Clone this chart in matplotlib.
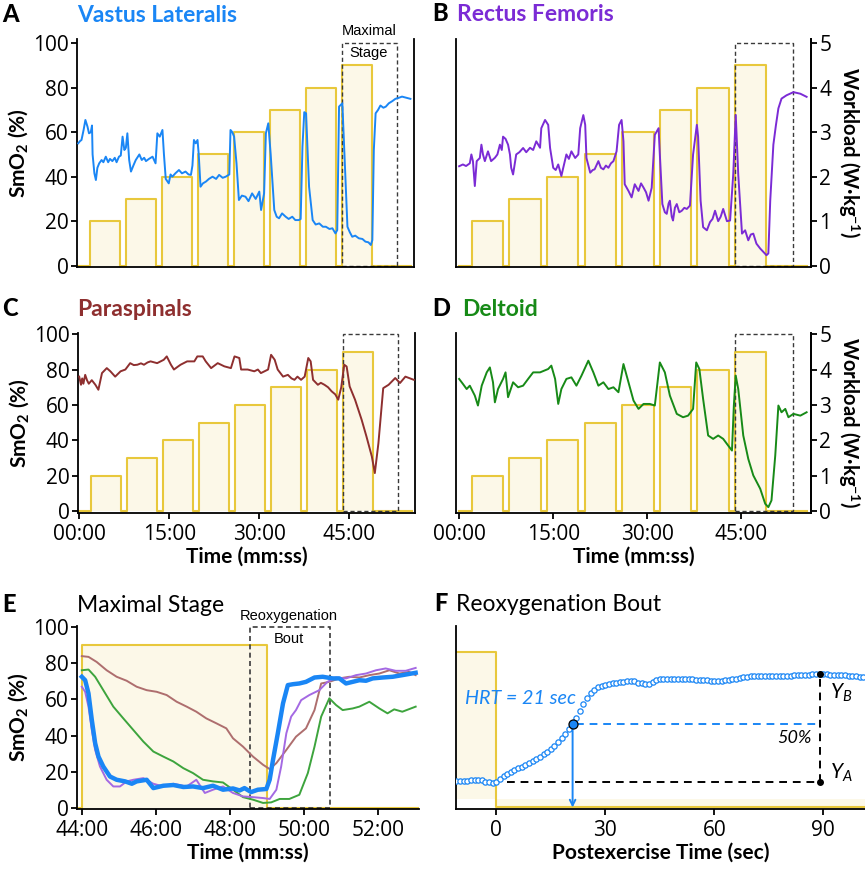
import matplotlib.pyplot as plt
from matplotlib.patches import Rectangle
import numpy as np

plt.rcParams['font.family'] = ['Lato', 'DejaVu Sans']
plt.rcParams['mathtext.fontset'] = 'custom'
plt.rcParams['mathtext.rm'] = 'Lato'
plt.rcParams['mathtext.it'] = 'Lato:italic'
plt.rcParams['mathtext.bf'] = 'Lato:bold'

# ---------------- data ----------------
# incremental test stages (minutes) and workload (W/kg)
stage_start = [2, 8, 14, 20, 26, 32, 38, 44]
stage_end = [7, 13, 19, 25, 31, 37, 43, 49]
stage_load = [1.0, 1.5, 2.0, 2.5, 3.0, 3.5, 4.0, 4.5]
test_end = 55.5
max_box = (44.0, 53.2)      # maximal stage window
reoxy_box = (48.53, 50.7)   # reoxygenation bout window

vl_t = [0.0, 0.3, 0.55, 0.9, 1.2, 1.55, 1.8, 2.1, 2.3, 2.4, 2.7, 2.95, 3.2, 3.5, 3.9, 4.2, 4.6, 5.0, 5.3,
        5.7, 6.1, 6.4, 6.8, 7.1, 7.4, 7.7, 7.95, 8.2, 8.5, 8.8, 9.2, 9.6, 10.2, 10.6, 11.0, 11.3, 11.8,
        12.4, 12.9, 13.2, 13.6, 14.05, 14.3, 14.6, 15.1, 15.4, 15.7, 16.2, 16.8, 17.3, 17.9, 18.4, 18.8,
        19.05, 19.3, 19.6, 19.9, 20.1, 20.4, 20.8, 21.3, 21.8, 22.4, 23.0, 23.5, 24.1, 24.6, 25.2, 25.4,
        25.7, 26.0, 26.4, 26.8, 27.3, 27.9, 28.4, 29.0, 29.6, 30.2, 30.5, 31.0, 31.3, 31.7, 32.1, 32.7,
        33.1, 33.5, 34.0, 34.6, 35.1, 35.7, 36.2, 36.8, 37.1, 37.4, 37.7, 38.0, 38.5, 39.1, 39.6, 40.2,
        40.8, 41.3, 41.9, 42.4, 42.9, 43.2, 43.5, 44.05, 44.3, 44.9, 45.3, 45.7, 46.2, 46.8, 47.4, 47.9,
        48.4, 48.8, 49.05, 49.3, 49.6, 50.0, 50.4, 50.9, 51.3, 51.8, 52.4, 52.9, 53.5, 54.0, 54.7, 55.4]
vl_smo2 = [55, 56, 56.5, 61, 65.5, 62.5, 59.5, 60, 63, 50, 41.5, 38.5, 44, 46, 47.5, 46.5, 49, 46.5, 48,
           47, 48.5, 46.5, 49, 49.5, 58, 52, 53, 59.5, 47.5, 42.3, 45, 47.5, 50, 47.5, 48.5, 47, 48,
           49, 46, 59.5, 58, 61, 50, 39, 37, 41, 40, 41.5, 43, 41.5, 42.3, 41, 40.8,
           45, 56.5, 55, 56.5, 50, 35.5, 37, 37.8, 39, 40, 39, 40.8, 39.5, 40, 41, 61,
           60, 58, 46, 29.5, 31.5, 31, 29, 32.5, 30, 33.3, 25, 32.5, 59.5, 64, 50, 25,
           22, 21.3, 23.5, 22, 21, 22, 20.5, 20.5, 21, 53.5, 69, 68.5, 35.5, 20.5, 18.5, 19,
           17.5, 17.5, 16.5, 16.8, 14.5, 16, 71.5, 73, 56.5, 17.5, 15, 13, 13.5, 12.3, 12, 10.8,
           10.5, 9.3, 11.5, 52, 68.5, 70, 72, 71, 71.5, 73, 74, 75, 75.5, 76, 75.5, 75]

rf_t = [0.0, 0.6, 1.1, 1.7, 1.95, 2.2, 2.5, 2.8, 3.3, 3.55, 3.8, 4.1, 4.6, 5.1, 5.7, 6.1, 6.5, 6.8, 7.0,
        7.4, 7.8, 8.1, 8.3, 8.6, 9.1, 9.6, 10.2, 10.7, 11.3, 11.8, 12.3, 12.9, 13.1, 13.7, 14.2, 14.5,
        15.0, 15.4, 15.8, 16.3, 16.6, 17.1, 17.5, 17.9, 18.5, 19.0, 19.3, 19.8, 20.1, 20.3, 20.9, 21.3,
        21.6, 22.2, 22.6, 23.0, 23.4, 23.8, 24.2, 24.6, 25.1, 25.5, 25.9, 26.2, 26.4, 27.0, 27.5, 28.0,
        28.6, 29.0, 29.4, 29.8, 30.2, 30.7, 31.2, 31.8, 32.0, 32.4, 32.8, 33.1, 33.4, 33.6, 33.9, 34.1,
        34.4, 34.7, 35.1, 35.5, 35.9, 36.3, 36.8, 37.3, 37.9, 38.1, 38.5, 38.9, 39.5, 40.0, 40.4, 40.8,
        41.3, 41.7, 42.1, 42.7, 43.2, 43.7, 44.1, 44.5, 45.1, 45.6, 46.1, 46.5, 46.9, 47.4, 48.0, 48.5,
        49.0, 49.3, 49.6, 50.1, 50.5, 50.9, 51.4, 52.2, 53.3, 54.4, 55.4]
rf_smo2 = [44.7, 45.5, 44.8, 46, 50, 47, 35.8, 47, 48.4, 54.4, 50, 47, 51.4, 47, 48.5, 50, 54.4, 52, 58,
           57, 54.4, 50, 44, 41, 50, 51, 52.9, 51, 53, 52, 55.9, 53, 61.8, 65.5, 63.3, 52.9,
           44, 43, 45.5, 40.3, 44, 50, 48, 51.4, 48.4, 50, 61.8, 67.7, 63.3, 48.4, 41.8, 43,
           43.3, 47, 44, 43.3, 45, 44, 46, 47, 51.4, 63.3, 65.5, 55.9, 36.6, 33.6, 30.7, 36.6,
           33.6, 37, 35.1, 33, 29.2, 35, 58.8, 61.8, 50, 27.7, 24, 23.3, 28, 29.2, 22, 20.3,
           26, 27.7, 24, 24.7, 26, 25.5, 27, 50, 63.3, 58, 29.2, 17.3, 15.9, 19.6, 21, 24.7,
           20, 22, 25.5, 20, 20.3, 41, 67.7, 41, 14.4, 15.9, 11.4, 14, 14.4, 9.9, 7.7, 6.2,
           4.7, 5.5, 29.2, 54.4, 63, 70.7, 75.1, 76.6, 78, 77.3, 75.9]

ps_t = [0.0, 0.3, 0.5, 0.7, 1.0, 1.3, 1.6, 2.1, 2.7, 3.2, 3.8, 4.6, 5.2, 6.0, 6.9, 7.7, 8.5, 9.1, 9.7,
        10.3, 10.8, 11.4, 11.9, 13.0, 14.1, 14.6, 15.3, 15.8, 16.4, 16.9, 18.0, 19.2, 19.7, 20.6, 21.1,
        22.0, 23.1, 24.2, 25.3, 25.9, 26.7, 27.0, 28.1, 29.2, 29.8, 30.3, 31.5, 32.0, 32.6, 33.1, 34.0,
        34.8, 35.4, 35.9, 36.4, 37.0, 37.6, 38.2, 38.6, 39.0, 39.8, 40.3, 40.9, 41.5, 42.1, 42.7, 43.2,
        43.7, 44.2, 44.6, 45.1, 46.0, 47.1, 47.9, 48.8, 49.3, 49.9, 50.7, 51.6, 52.7, 53.5, 54.4, 55.8]
ps_smo2 = [76, 71.4, 75, 72, 77, 74, 72, 74, 71.4, 68.6, 78, 80.8, 79, 76, 79, 80, 83.6, 82.5, 82.7,
           83.5, 82.7, 84, 84.6, 83.6, 85.5, 87.4, 82.7, 80, 81.5, 82.7, 84.6, 84.6, 87.4, 87.4, 84.6,
           80.8, 83.6, 81.8, 80.8, 87.4, 86.5, 80, 80, 79, 80, 78, 80, 88.3, 85.5, 80, 76,
           77, 75, 74.2, 76, 74.2, 76, 86.5, 84.6, 74.2, 71.4, 72.5, 71.4, 70, 67.7, 66, 63,
           70, 82.7, 81.7, 70.5, 63, 51.7, 42.3, 31, 21.6, 38.5, 69.5, 71.4, 75.2, 72.4, 76, 74.2]

dt_t = [0.0, 0.6, 1.2, 1.7, 2.5, 3.0, 3.6, 4.4, 4.9, 5.4, 5.7, 6.2, 7.0, 7.4, 7.8, 8.6, 9.4, 10.2, 11.0,
        11.8, 12.9, 14.2, 14.7, 15.3, 15.8, 16.3, 17.1, 17.9, 18.7, 19.5, 20.6, 21.4, 22.2, 23.0, 23.8,
        24.6, 25.4, 26.2, 27.0, 27.8, 28.6, 29.4, 30.4, 31.2, 32.0, 32.8, 33.6, 34.7, 35.7, 36.5, 37.3,
        37.8, 38.3, 38.9, 39.7, 40.5, 41.3, 42.1, 42.9, 43.5, 43.8, 44.1, 44.5, 45.3, 46.1, 46.9, 48.0,
        48.8, 49.3, 49.8, 50.4, 50.9, 51.4, 52.0, 52.5, 53.3, 54.4, 55.4]
dt_smo2 = [74.7, 71.9, 69, 70.9, 65.3, 59.7, 70.9, 78.4, 81.2, 72.8, 61.5, 69, 74.7, 78.4, 64.4, 72.8, 70,
           70.9, 74.7, 78.4, 78.4, 80.3, 82.2, 74.7, 60.6, 69, 74.7, 75.6, 70.9, 76.5, 85, 78.4, 70.9,
           72.8, 69, 70, 67.2, 83.1, 72.8, 62.5, 57.8, 60.6, 60.6, 59.7, 84, 78.4, 65.3, 55, 53.1, 54,
           57.8, 84, 80.3, 63.4, 42.8, 40.9, 42.8, 40.9, 37.1, 34.3, 59.7, 76.5, 69, 42.8, 29.6, 20.3,
           12.8, 4.3, 2.4, 6.2, 31.5, 59.7, 55.9, 57.8, 53.1, 55, 54, 55.9]

# maximal stage close-up (smoothed)
e_vl_t = [44.0, 44.09, 44.18, 44.27, 44.36, 44.45, 44.58, 44.76, 44.94, 45.17, 45.35, 45.48, 45.75, 45.93,
          46.2, 46.47, 46.74, 47.0, 47.27, 47.54, 47.81, 48.08, 48.26, 48.39, 48.57, 48.75, 48.98, 49.07,
          49.16, 49.29, 49.43, 49.56, 49.7, 49.87, 50.05, 50.28, 50.5, 50.77, 50.95, 51.13, 51.31, 51.49,
          51.67, 51.85, 52.12, 52.39, 52.65, 53.01]
e_vl = [72.5, 70.6, 63.3, 48.6, 35.8, 28.4, 22.9, 17.4, 15.6, 14.7, 13.4, 14.7, 15.6, 11, 12.3, 12.7, 11.6,
        11.9, 11, 12.3, 10.1, 10.8, 9.7, 11, 8.8, 10.1, 10.5, 15.6, 26.6, 41.3, 57.8, 67.9, 68.4, 68.8,
        69.7, 72.1, 72.5, 71.6, 71.6, 68.8, 69.7, 70.6, 70.3, 71.6, 72.1, 72.5, 73.4, 74.7]
e_rf_t = [44.0, 44.09, 44.18, 44.27, 44.36, 44.49, 44.67, 44.85, 45.03, 45.21, 45.39, 45.66, 45.93, 46.2,
          46.47, 46.83, 47.09, 47.32, 47.54, 47.81, 48.08, 48.35, 48.62, 48.89, 49.07, 49.25, 49.38, 49.52,
          49.65, 49.78, 49.92, 50.14, 50.41, 50.63, 50.86, 51.13, 51.4, 51.67, 51.94, 52.2, 52.47, 52.74,
          53.01]
e_rf = [67, 64.2, 56, 43.1, 32.1, 22.9, 15.6, 11.9, 11.9, 14.7, 15.6, 16.5, 13.4, 11.9, 13.4, 11.9, 15.6,
        8.3, 10.1, 11.9, 8.3, 6.4, 6, 5.5, 5, 10.1, 22.9, 41.3, 50.5, 54.1, 59.6, 62.4, 65.1, 69.7, 72.1,
        71.6, 73.4, 74.3, 76.1, 77.1, 75.8, 75.8, 77.4]
e_ps_t = [44.0, 44.18, 44.4, 44.67, 44.94, 45.21, 45.48, 45.75, 46.02, 46.29, 46.56, 46.83, 47.09, 47.36,
          47.63, 47.9, 48.08, 48.35, 48.62, 48.89, 49.07, 49.25, 49.52, 49.78, 50.05, 50.28, 50.46, 50.68,
          50.95, 51.22, 51.49, 51.76, 52.03, 52.3, 52.57, 52.83, 53.01]
e_ps = [83.9, 83.5, 80.7, 76.1, 72.5, 70.3, 67, 65.1, 64.2, 62.4, 58.7, 56, 53.2, 49.5, 46.8, 44, 38.5,
        33.9, 28.4, 23.9, 21.5, 24.8, 32.1, 39.4, 44, 54.1, 68.8, 69.7, 71.6, 72.5, 72.1, 73.4, 74.3, 76.1,
        74.3, 75.2, 73.4]
e_dt_t = [44.0, 44.18, 44.36, 44.58, 44.85, 45.12, 45.39, 45.66, 45.93, 46.2, 46.47, 46.74, 47.0, 47.27,
          47.54, 47.81, 48.08, 48.35, 48.62, 48.89, 49.11, 49.34, 49.6, 49.87, 50.1, 50.28, 50.46, 50.68,
          50.86, 51.04, 51.31, 51.49, 51.76, 52.03, 52.25, 52.43, 52.65, 53.01]
e_dt = [76.1, 76.5, 72.5, 65.1, 56, 49.5, 43.1, 36.7, 31.2, 28.4, 25.7, 22, 19.3, 15.6, 14.7, 14.1, 10.1, 6,
        4.6, 2.8, 3.1, 5, 5, 7.3, 19.3, 33.9, 50.5, 60.6, 56.9, 54.1, 55, 56, 58.7, 55, 52.3, 54.5, 53.2, 56]

# reoxygenation bout, VL, 1-s samples from -11 s to 101 s
f_sec = np.arange(-11, 102)
f_vl = [14.7, 14.8, 14.9, 15.0, 15.2, 15.4, 15.6, 15.4, 14.6, 14.1, 13.8,
        14.2, 16.2, 17.6, 18.6, 19.8, 20.9, 21.9, 22.9, 24.0, 25.0,
        26.2, 27.2, 28.2, 29.6, 31.2, 32.6, 34.2, 36.2, 38.6, 40.8,
        43.5, 46.2, 49.8, 53.5, 57.2, 60.5, 63.4, 65.4, 66.8, 67.6,
        68.2, 68.6, 69.0, 69.2, 69.4, 69.7, 70.0, 70.3, 70.0, 69.3,
        68.8, 68.4, 68.6, 69.6, 70.6, 71.0, 71.2, 71.2, 71.2, 71.2,
        71.2, 71.2, 71.2, 71.1, 71.0, 70.9, 70.7, 70.6, 70.5, 70.3,
        70.3, 70.3, 70.3, 70.5, 70.8, 71.0, 71.4, 71.8, 72.1, 72.4,
        72.7, 72.8, 72.8, 72.8, 72.9, 72.9, 73.0, 73.0, 73.1, 73.1,
        73.2, 73.2, 73.3, 73.5, 73.6, 73.6, 73.7, 73.8, 73.8, 73.8,
        73.8, 73.8, 73.7, 73.6, 73.5, 73.4, 73.3, 73.2, 73.0, 72.8,
        72.6, 72.5]
f_stage_top = 86
hrt = 21
hrt_y = 46.2
y_a, y_b = 14.1, 73.8
y_ref_sec = 89
baseline_from = 3

# ---------------- style ----------------
BLUE = '#1A86F5'
PURPLE = '#7B2BD5'
BROWN = '#8E2F2F'
GREEN = '#178A17'
E_PURPLE = '#A469E3'
E_BROWN = '#AE6E6E'
E_GREEN = '#3DA43D'
GOLD = '#E8C83C'
CREAM = '#FCF8E8'
BOX = '#3a3a3a'
TICK_FS = 15
TICK_FONT = 'Open Sans'
LAB_FS = 15

W, H = 865, 869
fig = plt.figure(figsize=(W / 100, H / 100), dpi=100)
tick_axes = []


def px_axes(l, t, r, b):
    return fig.add_axes([l / W, 1 - b / H, (r - l) / W, (b - t) / H])


def stage_profile():
    xs, ys = [0], [0]
    for s, e, w in zip(stage_start, stage_end, stage_load):
        xs += [s, s, e, e]
        ys += [0, w * 20, w * 20, 0]
    xs.append(test_end)
    ys.append(0)
    return xs, ys


def style(ax, right=True):
    ax.spines['top'].set_visible(False)
    ax.spines['right'].set_visible(right)
    for s in ['left', 'bottom', 'right']:
        ax.spines[s].set_linewidth(1.3)
    ax.tick_params(labelsize=TICK_FS, length=4, width=1.3)
    ax.tick_params(axis='x', pad=4)
    ax.tick_params(axis='y', pad=2)
    tick_axes.append(ax)


def draw_overview(ax, t, v, color, xlim, ylim, left_ticks, bottom_ticks, right_ticks, note=False):
    xs, ys = stage_profile()
    ax.fill_between(xs, ys, 0, color=CREAM, lw=0, zorder=1)
    ax.plot(xs, ys, color=GOLD, lw=1.5, zorder=2)
    ax.add_patch(Rectangle((max_box[0], 0), max_box[1] - max_box[0], 100, fill=False,
                           ec=BOX, lw=1.0, ls=(0, (3, 2)), zorder=2.5))
    ax.plot(t, v, color=color, lw=1.4, zorder=3)
    ax.set_xlim(*xlim)
    ax.set_ylim(*ylim)
    style(ax)
    if left_ticks:
        ax.set_yticks([0, 20, 40, 60, 80, 100])
        ax.set_ylabel('SmO$_\\mathbf{2}$ (%)', fontsize=LAB_FS, fontweight='bold', labelpad=2)
    else:
        ax.set_yticks([])
    if bottom_ticks:
        ax.set_xticks([0, 15, 30, 45])
        ax.set_xticklabels([f'{m:02d}:00' for m in [0, 15, 30, 45]])
        ax.set_xlabel('Time (mm:ss)', fontsize=LAB_FS, fontweight='bold', labelpad=1)
    else:
        ax.set_xticks([])
    if right_ticks:
        sec = ax.secondary_yaxis('right', functions=(lambda y: y / 20, lambda w: w * 20))
        sec.set_yticks([0, 1, 2, 3, 4, 5])
        sec.tick_params(labelsize=TICK_FS, length=4, width=1.3, pad=2)
        sec.spines['right'].set_linewidth(1.3)
        sec.set_ylabel('Workload (W·kg$^{\\mathbf{-1}}$)', fontsize=14.5, fontweight='bold',
                       rotation=-90, va='bottom', labelpad=3)
        tick_axes.append(sec)
    if note:
        xc = (max_box[0] + max_box[1]) / 2 - 0.1
        ax.text(xc, 105.5, 'Maximal', ha='center', va='center', fontsize=10.5,
                family='Liberation Sans', clip_on=False)
        ax.text(xc, 95.5, 'Stage', ha='center', va='center', fontsize=10.5,
                family='Liberation Sans')


def title(x_letter, x_name, y, letter, name, color, weight='bold'):
    fig.text(x_letter / W, 1 - y / H, letter, fontsize=17, fontweight='black', va='baseline')
    fig.text(x_name / W, 1 - y / H, name, fontsize=16.5, fontweight=weight, color=color, va='baseline')


# ---- A - D ----
axA = px_axes(77, 39, 414, 267)
draw_overview(axA, vl_t, vl_smo2, BLUE, (-0.2, 56), (-0.6, 101.9), True, False, False, note=True)
axB = px_axes(456, 39, 811, 267)
draw_overview(axB, rf_t, rf_smo2, PURPLE, (-0.5, 56.1), (-0.6, 101.9), False, False, True)
axC = px_axes(78, 333, 415, 513)
draw_overview(axC, ps_t, ps_smo2, BROWN, (-0.2, 56), (-0.9, 100.6), True, True, False)
axD = px_axes(456, 333, 811, 513)
draw_overview(axD, dt_t, dt_smo2, GREEN, (-0.5, 56.1), (-0.9, 100.6), False, True, True)

title(2, 77, 22, 'A', 'Vastus Lateralis', BLUE)
title(432, 457, 21, 'B', 'Rectus Femoris', PURPLE)
title(2, 77, 316, 'C', 'Paraspinals', BROWN)
title(432, 462, 316, 'D', 'Deltoid', GREEN)

# ---- E ----
axE = px_axes(77, 626, 419, 809)
xs, ys = stage_profile()
axE.fill_between(xs, ys, 0, color=CREAM, lw=0, zorder=1)
axE.plot(xs, ys, color=GOLD, lw=1.5, zorder=2)
axE.add_patch(Rectangle((reoxy_box[0], 0), reoxy_box[1] - reoxy_box[0], 100, fill=False,
                        ec=BOX, lw=1.2, ls=(0, (3, 2)), zorder=2.5))
axE.plot(e_ps_t, e_ps, color=E_BROWN, lw=1.4, zorder=3)
axE.plot(e_dt_t, e_dt, color=E_GREEN, lw=1.4, zorder=3)
axE.plot(e_rf_t, e_rf, color=E_PURPLE, lw=1.4, zorder=3)
axE.plot(e_vl_t, e_vl, color=BLUE, lw=3.2, zorder=4, solid_joinstyle='round')
axE.set_xlim(43.87, 53.1)
axE.set_ylim(-0.55, 100.55)
style(axE, right=False)
axE.set_yticks([0, 20, 40, 60, 80, 100])
axE.set_xticks([44, 46, 48, 50, 52])
axE.set_xticklabels([f'{m}:00' for m in [44, 46, 48, 50, 52]])
axE.set_ylabel('SmO$_\\mathbf{2}$ (%)', fontsize=LAB_FS, fontweight='bold', labelpad=2)
axE.set_xlabel('Time (mm:ss)', fontsize=LAB_FS, fontweight='bold', labelpad=1)
xc = (reoxy_box[0] + reoxy_box[1]) / 2 - 0.02
axE.text(xc, 105.9, 'Reoxygenation', ha='center', va='center', fontsize=10.5,
         family='Liberation Sans', clip_on=False)
axE.text(xc, 93.2, 'Bout', ha='center', va='center', fontsize=10.5, family='Liberation Sans')
title(2, 77, 612, 'E', 'Maximal Stage', 'black', weight='normal')

# ---- F ----
axF = px_axes(456, 626, 865, 809)
axF.fill_between([-11.1, 0], 5, f_stage_top, color=CREAM, lw=0, zorder=1)
axF.fill_between([0, 101.5], 0, 5, color=CREAM, lw=0, zorder=1)
axF.plot([-11.1, 0, 0, 101.5], [f_stage_top, f_stage_top, 0.4, 0.4], color=GOLD, lw=1.5, zorder=2)
axF.plot([baseline_from, y_ref_sec], [y_a, y_a], color='black', lw=1.4, ls=(0, (4, 3)), zorder=3)
axF.plot([y_ref_sec, y_ref_sec], [y_a, y_b], color='black', lw=1.4, ls=(0, (4, 3)), zorder=3)
axF.plot([hrt + 1, y_ref_sec], [hrt_y, hrt_y], color=BLUE, lw=1.4, ls=(0, (4, 3)), zorder=3)
axF.plot(f_sec, f_vl, ls='none', marker='o', ms=3.8, mfc='white', mec=BLUE, mew=0.9, zorder=4)
axF.plot([y_ref_sec, y_ref_sec], [y_a, y_b], ls='none', marker='o', ms=4, color='black', zorder=5)
axF.annotate('', xy=(hrt, 0.3), xytext=(hrt, hrt_y),
             arrowprops=dict(arrowstyle='->', color=BLUE, lw=1.4, shrinkA=0, shrinkB=0), zorder=4)
axF.plot([hrt], [hrt_y], ls='none', marker='o', ms=6.5, mfc=BLUE, mec='black', mew=0.9, zorder=6)
axF.text(-8.7, 60.7, f'HRT = {hrt} sec', color=BLUE, fontsize=14.2, style='italic', va='center')
axF.text(86.8, 38.5, '50%', fontsize=13, style='italic', ha='right', va='center')
axF.text(92, 63.5, '$Y_B$', fontsize=15, va='center')
axF.text(92, 19.4, '$Y_A$', fontsize=15, va='center')
axF.set_xlim(-11.1, 101.5)
axF.set_ylim(-0.55, 100.55)
style(axF, right=False)
axF.set_yticks([])
axF.set_xticks([0, 30, 60, 90])
axF.set_xlabel('Postexercise Time (sec)', fontsize=LAB_FS, fontweight='bold', labelpad=1)
title(434, 456, 611, 'F', 'Reoxygenation Bout', 'black', weight='normal')

for a in tick_axes:
    for lab in a.get_xticklabels() + a.get_yticklabels():
        lab.set_family(TICK_FONT)

fig.savefig('out.png', dpi=100)
